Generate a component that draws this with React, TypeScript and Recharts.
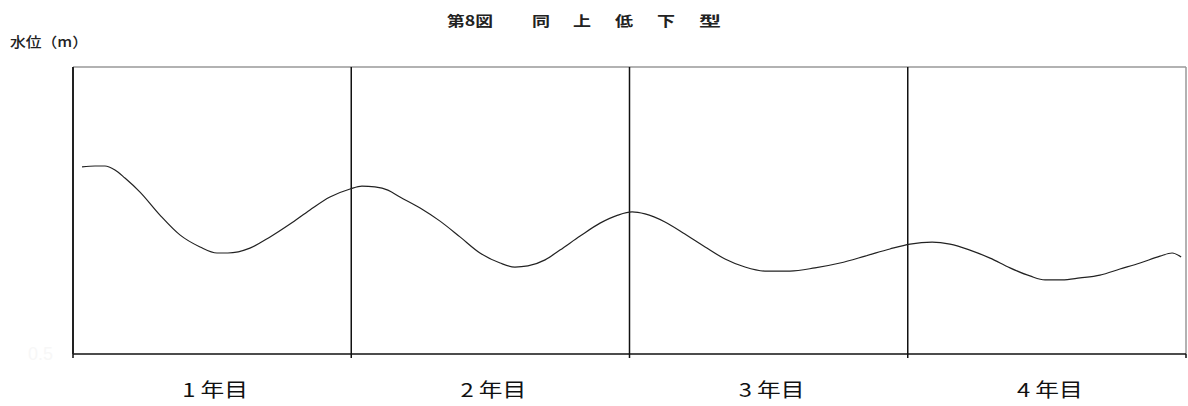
import { LineChart, Line, XAxis, YAxis, ReferenceLine } from "recharts";

// elapsed time in months (0-48 = 4 years) and water level
const months = [
  0.39, 0.95, 1.38, 1.81, 2.24, 2.89, 3.75, 4.61, 5.48, 6.21, 6.68, 7.63, 8.5,
  9.36, 10.22, 11.08, 11.95, 12.46, 13.02, 13.58, 14.1, 14.97, 15.83, 16.69,
  17.55, 18.42, 19.06, 19.62, 20.36, 21.0, 21.87, 22.73, 23.5, 24.11, 24.67,
  25.53, 26.39, 27.26, 28.12, 28.98, 29.84, 30.92, 32.0, 33.08, 34.16, 35.23,
  36.1, 37.05, 37.82, 38.68, 39.55, 40.41, 41.27, 41.92, 42.65, 43.43, 44.29,
  45.15, 46.02, 46.88, 47.4, 47.79,
];
const levels = [
  1.152, 1.155, 1.155, 1.141, 1.113, 1.064, 0.984, 0.915, 0.873, 0.852, 0.852,
  0.869, 0.908, 0.953, 1.002, 1.047, 1.075, 1.085, 1.082, 1.071, 1.047, 1.009,
  0.963, 0.908, 0.852, 0.817, 0.803, 0.807, 0.828, 0.862, 0.911, 0.956, 0.984,
  0.995, 0.988, 0.96, 0.918, 0.873, 0.831, 0.803, 0.789, 0.789, 0.8, 0.817,
  0.841, 0.866, 0.883, 0.89, 0.883, 0.862, 0.834, 0.8, 0.772, 0.758, 0.758,
  0.765, 0.775, 0.796, 0.817, 0.841, 0.852, 0.838,
];
const yearLabels = ["1 年目", "2 年目", "3 年目", "4 年目"];
const yearTicks = [6, 18, 30, 42];
const yearBounds = [0, 12, 24, 36, 48];
const yTicks = [0.5];
const titleParts = ["第8図", "同", "上", "低", "下", "型"];
const yLabel = "水位（m）";

const data = months.map((m, i) => ({ m, level: levels[i] }));

const FONT = "'Noto Sans CJK JP', 'Noto Sans', sans-serif";

// the source figure has horizontally stretched glyphs, so text is fitted to a width
const titleX = [447, 532, 573, 615, 657, 699];
const titleW = [46, 18, 18, 18, 18, 22];

const XTick = (props: any) => {
  const { x, y, payload } = props;
  const v = payload.value;
  const idx = yearTicks.indexOf(v);
  if (idx >= 0) {
    return (
      <text
        x={x - 30}
        y={y + 43}
        textLength={66}
        lengthAdjust="spacingAndGlyphs"
        fontSize={19}
        fontFamily={FONT}
        fill="#111"
      >
        {yearLabels[idx]}
      </text>
    );
  }
  return <line x1={x} x2={x} y1={y} y2={y + 4} stroke="#111" strokeWidth={1.5} />;
};

export default function App() {
  const allTicks = [...yearBounds, ...yearTicks].sort((a, b) => a - b);
  return (
    <div
      style={{
        position: "absolute",
        left: 0,
        top: 0,
        width: 1188,
        height: 406,
        background: "#fff",
        fontFamily: FONT,
      }}
    >
      <svg
        width={1188}
        height={80}
        style={{ position: "absolute", left: 0, top: 0, pointerEvents: "none" }}
      >
        {titleParts.map((p, i) => (
          <text
            key={i}
            x={titleX[i]}
            y={26}
            textLength={titleW[i]}
            lengthAdjust="spacingAndGlyphs"
            fontSize={14}
            fontWeight={700}
            fontFamily={FONT}
            fill="#222"
          >
            {p}
          </text>
        ))}
        <text
          x={10}
          y={47}
          textLength={78}
          lengthAdjust="spacingAndGlyphs"
          fontSize={14}
          fontWeight={500}
          fontFamily={FONT}
          fill="#222"
        >
          {yLabel}
        </text>
      </svg>
      <LineChart
        width={1188}
        height={406}
        data={data}
        margin={{ top: 67, right: 2, left: 10, bottom: 12 }}
      >
        <XAxis
          dataKey="m"
          type="number"
          domain={[0, 48]}
          ticks={allTicks}
          interval={0}
          tickLine={false}
          tickSize={0}
          tickMargin={0}
          height={40}
          axisLine={{ stroke: "#111", strokeWidth: 1.5 }}
          tick={<XTick />}
        />
        <YAxis
          type="number"
          domain={[0.5, 1.5]}
          ticks={yTicks}
          width={63}
          tickLine={false}
          tickSize={0}
          tickMargin={20}
          axisLine={{ stroke: "#222", strokeWidth: 2 }}
          tick={{ fontSize: 18, fill: "#f7f7f7", fontFamily: "Arial, sans-serif" }}
        />
        <ReferenceLine y={1.5} stroke="#999" strokeWidth={1.5} />
        <ReferenceLine x={48} stroke="#999" strokeWidth={1.5} />
        {[12, 24, 36].map((x) => (
          <ReferenceLine key={x} x={x} stroke="#111" strokeWidth={1.5} />
        ))}
        <Line
          type="monotone"
          dataKey="level"
          stroke="#222"
          strokeWidth={1.2}
          dot={false}
          isAnimationActive={false}
        />
      </LineChart>
    </div>
  );
}
